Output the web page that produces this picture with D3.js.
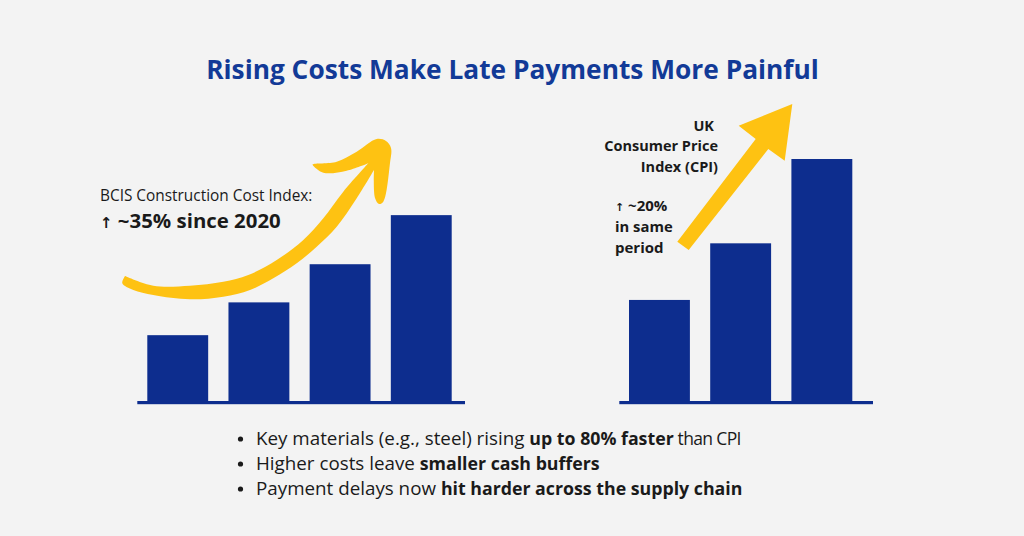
<!DOCTYPE html>
<html>
<head>
<meta charset="utf-8">
<script src="https://cdn.jsdelivr.net/npm/d3@7"></script>
<style>
  html, body { margin: 0; padding: 0; background: #f3f3f3; }
  svg { display: block; font-family: "Open Sans", sans-serif; }
</style>
</head>
<body>
<svg width="1024" height="536"></svg>
<script>
// bar heights, tallest bar = 100 (no axis in the original)
const bcisBars = ['b1', 'b2', 'b3', 'b4'];
const bcisValues = [27.5, 41, 56.7, 76.9];
const cpiBars = ['c1', 'c2', 'c3'];
const cpiValues = [42, 65.3, 100];

const title = 'Rising Costs Make Late Payments More Painful';
const bulletNormal = ['Key materials (e.g., steel) rising ', 'Higher costs leave ', 'Payment delays now '];
const bulletBold = ['up to 80% faster', 'smaller cash buffers', 'hit harder across the supply chain'];
const bulletTail = [' than CPI', '', ''];

const navy = '#0d2d8e';
const yellow = '#fec212';
const ink = '#1a1a1a';

const svg = d3.select('svg');

svg.append('text')
    .attr('x', 512.5).attr('y', 79)
    .attr('text-anchor', 'middle')
    .attr('font-size', 26.3)
    .attr('font-weight', 700)
    .attr('fill', '#123a97')
    .text(title);

const y = d3.scaleLinear().domain([0, 100]).range([402, 159]);

function drawBars(names, values, x0, x1, lineX0, lineX1) {
    const x = d3.scaleBand().domain(names).range([x0, x1]).paddingInner(0.25);
    svg.append('g').selectAll('rect')
        .data(values)
        .join('rect')
        .attr('x', (d, i) => x(names[i]))
        .attr('y', (d) => y(d))
        .attr('width', x.bandwidth())
        .attr('height', (d) => y(0) - y(d))
        .attr('fill', navy);
    svg.append('rect')
        .attr('x', lineX0).attr('y', y(0) - 1)
        .attr('width', lineX1 - lineX0).attr('height', 3.2)
        .attr('fill', navy);
}

drawBars(bcisBars, bcisValues, 147.3, 451.7, 137.3, 465);
drawBars(cpiBars, cpiValues, 629, 852.3, 619.3, 873);

// curved arrow, left chart: two smooth edges joined by the head
const smooth = d3.line().curve(d3.curveCatmullRom);
const upperEdge = [[125, 276], [153.3, 285.7], [190, 285.7], [223.3, 281.7], [248.3, 275], [276.7, 260],
    [303.3, 240], [323.3, 218.3], [343.3, 191.7], [368.3, 163.3]];
const arrowHead = [[368.3, 163.3], [346.7, 170.7], [323.3, 172.7], [312.7, 165], [312.7, 164.3], [336.7, 161.7],
    [356.7, 151.7], [376.7, 139], [386, 141], [391, 148], [390, 163], [383.3, 201.7], [379, 204], [375, 198], [374, 170]];
const lowerEdge = [[374, 170], [356.7, 198.3], [336.7, 226.7], [316.7, 246.7], [296.7, 263.3], [273.3, 278.3],
    [250, 290], [223.3, 296.7], [190, 299.3], [153.3, 295], [133.3, 290], [122.3, 283.3], [125, 276]];
svg.append('path')
    .attr('fill', yellow)
    .attr('d', smooth(upperEdge) + smooth(arrowHead).replace('M', 'L') + smooth(lowerEdge).replace('M', 'L') + 'Z');

// straight arrow, right chart
svg.append('path')
    .attr('fill', yellow)
    .attr('d', 'M792.3,104 L738.7,125.7 L755.7,139 L677.3,241.7 L688.7,250 L768.3,149 L784.7,160.7 Z');

function label(x, baseline, txt, size, weight, anchor) {
    return svg.append('text')
        .attr('x', x).attr('y', baseline)
        .attr('font-size', size)
        .attr('font-weight', weight)
        .attr('fill', ink)
        .attr('text-anchor', anchor || 'start')
        .text(txt);
}

// the up arrow glyph is small and heavy in the original
function arrowLabel(x, baseline, txt, size, arrowSize) {
    const t = label(x, baseline, '', size, 700).attr('xml:space', 'preserve');
    t.append('tspan').attr('font-family', 'DejaVu Sans').attr('font-size', arrowSize).text('↑');
    t.append('tspan').text(txt);
}

label(100, 201, 'BCIS Construction Cost Index:', 15.4, 400);
arrowLabel(100, 227.5, ' ~35% since 2020', 20.4, 15);

label(714, 131, 'UK', 14.5, 700, 'end');
label(718, 151, 'Consumer Price', 14.5, 700, 'end');
label(718, 172, 'Index (CPI)', 14.5, 700, 'end');
arrowLabel(615, 211, ' ~20%', 15, 11);
label(615, 232, 'in same', 14.8, 700);
label(615, 253, 'period', 15, 700);

// bullet list
const rowY = d3.scalePoint().domain([0, 1, 2]).range([445, 495]);
bulletNormal.forEach((normal, i) => {
    svg.append('circle')
        .attr('cx', 240.5).attr('cy', rowY(i) - 6)
        .attr('r', 2.6)
        .attr('fill', ink);
    const row = svg.append('text')
        .attr('x', 256).attr('y', rowY(i))
        .attr('fill', ink)
        .attr('xml:space', 'preserve');
    row.append('tspan').attr('font-size', 18.8).text(normal);
    row.append('tspan').attr('font-size', 17.75).attr('font-weight', 700).text(bulletBold[i]);
    row.append('tspan').attr('font-size', 17.5).attr('letter-spacing', -0.65).text(bulletTail[i]);
});
</script>
</body>
</html>
